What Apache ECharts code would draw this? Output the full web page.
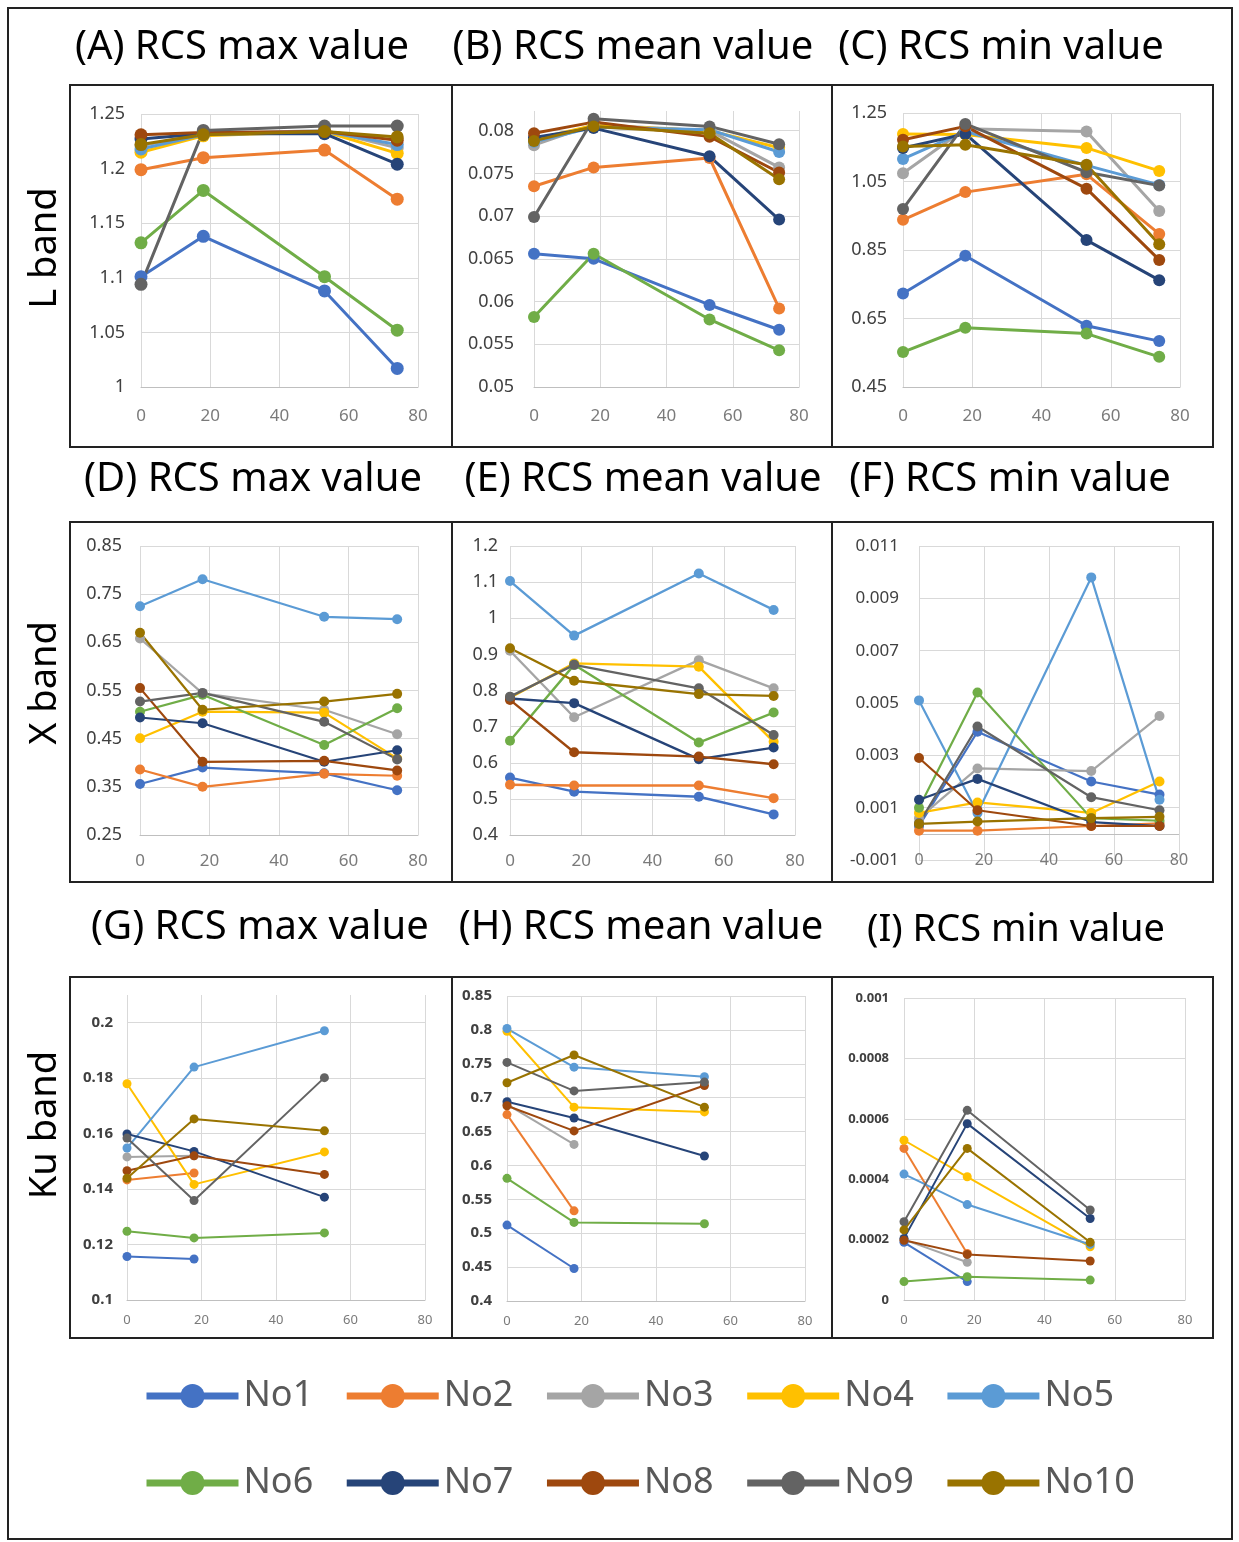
<!DOCTYPE html>
<html><head><meta charset="utf-8">
<script src="https://cdn.jsdelivr.net/npm/echarts@6/dist/echarts.min.js"></script>
<style>html,body{margin:0;padding:0;background:#fff}#c{width:1239px;height:1542px}</style>
</head><body><div id="c"></div>
<script>
// ---------- data ----------
const seriesNames = ['No1','No2','No3','No4','No5','No6','No7','No8','No9','No10'];
const seriesColors = ['#4472C4','#ED7D31','#A5A5A5','#FFC000','#5B9BD5','#70AD47','#264478','#9E480E','#636363','#997300'];
const panelTitles = ['(A) RCS max value','(B) RCS mean value','(C) RCS min value',
                     '(D) RCS max value','(E) RCS mean value','(F) RCS min value',
                     '(G) RCS max value','(H) RCS mean value','(I) RCS min value'];
const bandLabels = ['L band','X band','Ku band'];
const xAngles_LX = [0, 18, 53, 74];
const xAngles_Ku = [0, 18, 53];
const xAxisRange = [0, 80, 20];          // min, max, interval
// y axis ranges: [min, max, interval]
const yRangeA = [1, 1.25, 0.05];
const yRangeB = [0.05, 0.0823, 0.005];
const yRangeC = [0.45, 1.25, 0.2];
const yRangeD = [0.25, 0.85, 0.1];
const yRangeE = [0.4, 1.2, 0.1];
const yRangeF = [-0.001, 0.011, 0.002];
const yRangeG = [0.1, 0.21, 0.02];
const yRangeH = [0.4, 0.85, 0.05];
const yRangeI = [0, 0.001, 0.0002];

// one row per series No1..No10
const L_max = [
  [1.101, 1.138, 1.088, 1.017],
  [1.199, 1.210, 1.217, 1.172],
  [1.221, 1.232, 1.235, 1.219],
  [1.215, 1.230, 1.234, 1.214],
  [1.218, 1.231, 1.234, 1.222],
  [1.132, 1.180, 1.101, 1.052],
  [1.227, 1.232, 1.232, 1.204],
  [1.231, 1.233, 1.234, 1.226],
  [1.094, 1.235, 1.239, 1.239],
  [1.222, 1.231, 1.234, 1.229]
];
const L_mean = [
  [0.0656, 0.0650, 0.0596, 0.0567],
  [0.0735, 0.0757, 0.0768, 0.0592],
  [0.0783, 0.0807, 0.0800, 0.0757],
  [0.0790, 0.0806, 0.0800, 0.0780],
  [0.0787, 0.0804, 0.0801, 0.0775],
  [0.0582, 0.0656, 0.0579, 0.0543],
  [0.0792, 0.0803, 0.0770, 0.0696],
  [0.0797, 0.0810, 0.0793, 0.0751],
  [0.0699, 0.0814, 0.0805, 0.0784],
  [0.0788, 0.0805, 0.0797, 0.0743]
];
const L_min = [
  [0.723, 0.833, 0.629, 0.584],
  [0.938, 1.019, 1.071, 0.897],
  [1.074, 1.204, 1.196, 0.964],
  [1.189, 1.187, 1.148, 1.081],
  [1.116, 1.196, 1.097, 1.040],
  [0.552, 0.623, 0.606, 0.538],
  [1.148, 1.189, 0.879, 0.762],
  [1.172, 1.211, 1.029, 0.821],
  [0.970, 1.218, 1.077, 1.038],
  [1.152, 1.157, 1.099, 0.867]
];
const X_max = [
  [0.356, 0.390, 0.378, 0.343],
  [0.386, 0.350, 0.377, 0.373],
  [0.658, 0.544, 0.510, 0.459],
  [0.451, 0.506, 0.504, 0.409],
  [0.725, 0.781, 0.703, 0.698],
  [0.506, 0.541, 0.437, 0.513],
  [0.494, 0.482, 0.402, 0.426],
  [0.555, 0.402, 0.404, 0.384],
  [0.527, 0.545, 0.485, 0.407],
  [0.670, 0.510, 0.527, 0.543]
];
const X_mean = [
  [0.559, 0.520, 0.506, 0.457],
  [0.539, 0.537, 0.537, 0.502],
  [0.910, 0.726, 0.884, 0.806],
  [0.780, 0.875, 0.866, 0.658],
  [1.103, 0.952, 1.124, 1.023],
  [0.661, 0.871, 0.656, 0.739],
  [0.778, 0.765, 0.610, 0.642],
  [0.774, 0.629, 0.617, 0.596],
  [0.783, 0.871, 0.806, 0.677],
  [0.917, 0.827, 0.790, 0.785]
];
const X_min = [
  [0.0003, 0.0039, 0.0020, 0.0015],
  [0.00012, 0.00012, 0.0003, 0.0004],
  [0.0006, 0.0025, 0.0024, 0.0045],
  [0.0008, 0.0012, 0.0008, 0.0020],
  [0.0051, 0.0008, 0.0098, 0.0013],
  [0.0010, 0.0054, 0.0006, 0.0005],
  [0.0013, 0.0021, 0.00045, 0.0003],
  [0.0029, 0.0009, 0.0003, 0.0003],
  [0.0004, 0.0041, 0.0014, 0.0009],
  [0.00038, 0.00047, 0.0006, 0.00065]
];
const Ku_max = [
  [0.1157, 0.1148, null],
  [0.1433, 0.1458, null],
  [0.1516, 0.1520, null],
  [0.1780, 0.1417, 0.1534],
  [0.1548, 0.1840, 0.1971],
  [0.1248, 0.1224, 0.1242],
  [0.1599, 0.1536, 0.1371],
  [0.1466, 0.1520, 0.1453],
  [0.1584, 0.1359, 0.1802],
  [0.1439, 0.1653, 0.1610]
];
const Ku_mean = [
  [0.512, 0.448, null],
  [0.675, 0.533, null],
  [0.690, 0.631, null],
  [0.798, 0.686, 0.679],
  [0.802, 0.745, 0.731],
  [0.581, 0.516, 0.514],
  [0.694, 0.670, 0.614],
  [0.688, 0.651, 0.718],
  [0.752, 0.710, 0.723],
  [0.722, 0.763, 0.686]
];
const Ku_min = [
  [0.000191, 0.000061, null],
  [0.000502, 0.000154, null],
  [0.000200, 0.000125, null],
  [0.000529, 0.000408, 0.000176],
  [0.000417, 0.000316, 0.000184],
  [0.000061, 0.000077, 0.000066],
  [0.000204, 0.000584, 0.000270],
  [0.000198, 0.000151, 0.000129],
  [0.000259, 0.000628, 0.000298],
  [0.000232, 0.000502, 0.000191]
];

// ---------- layout ----------
const FONT = '"Noto Sans", "Open Sans", sans-serif';
const panels = [
  {grid:{left:141,top:114,width:277,height:273}, y:yRangeA, xs:xAngles_LX, vals:L_max,  fs:18, ym:16, xm:21, sym:13, lw:3},
  {grid:{left:534,top:111,width:265,height:276}, y:yRangeB, xs:xAngles_LX, vals:L_mean, fs:18, ym:20, xm:21, sym:12, lw:3, hideMax:true},
  {grid:{left:903,top:113,width:277,height:274}, y:yRangeC, xs:xAngles_LX, vals:L_min,  fs:18, ym:16, xm:21, sym:12, lw:3},
  {grid:{left:140,top:546,width:278,height:289}, y:yRangeD, xs:xAngles_LX, vals:X_max,  fs:18, ym:18, xm:18, sym:10, lw:2.2},
  {grid:{left:510,top:546,width:285,height:289}, y:yRangeE, xs:xAngles_LX, vals:X_mean, fs:18, ym:12, xm:18, sym:10, lw:2.4},
  {grid:{left:919,top:546,width:260,height:314}, y:yRangeF, xs:xAngles_LX, vals:X_min,  fs:17, ym:20, xm:-8, sym:10, lw:2.2, zeroLine:true},
  {grid:{left:127,top:995,width:298,height:305}, y:yRangeG, xs:xAngles_Ku, vals:Ku_max, fs:15, ym:14, xm:14, sym:9, lw:2, hideMax:true, bold:true, xfs:13},
  {grid:{left:507,top:996,width:298,height:305}, y:yRangeH, xs:xAngles_Ku, vals:Ku_mean,fs:15, ym:15, xm:14, sym:9, lw:2, bold:true, xfs:13},
  {grid:{left:904,top:998,width:281,height:302}, y:yRangeI, xs:xAngles_Ku, vals:Ku_min, fs:13, ym:15, xm:14, sym:9, lw:2, bold:true, xfs:13}
];
const titlePos = [[242,48],[633,48],[1001,48],[253,480],[643,480],[1010,480],[260,928],[641,928],[1016,930]];
const titleSize = [40,40,40,40,40,40,40,40,38];
const bandPos = [[45,248],[45,683],[45,1125]];

const grids = [], xAxes = [], yAxes = [], series = [];
panels.forEach((p, gi) => {
  grids.push(Object.assign({containLabel:false}, p.grid));
  xAxes.push({
    type:'value', gridIndex:gi, min:xAxisRange[0], max:xAxisRange[1], interval:xAxisRange[2],
    axisLine:{show:!p.zeroLine, onZero:false, lineStyle:{color:'#bfbfbf', width:1}},
    axisTick:{show:false},
    splitLine:{show:true, lineStyle:{color:'#d9d9d9', width:1}},
    axisLabel:{fontSize:p.xfs||p.fs-1, color:'#7a7a7a', margin:p.xm, fontFamily:FONT}
  });
  yAxes.push({
    type:'value', gridIndex:gi, min:p.y[0], max:p.y[1], interval:p.y[2],
    axisLine:{show:false}, axisTick:{show:false},
    splitLine:{show:true, showMaxLine:!p.hideMax, lineStyle:{color:'#d9d9d9', width:1}},
    axisLabel:{fontSize:p.fs, color:'#404040', margin:p.ym, fontFamily:FONT,
               fontWeight:p.bold?'bold':'normal', showMaxLabel:!p.hideMax}
  });
  seriesNames.forEach((name, si) => {
    const data = [];
    p.xs.forEach((x, k) => { const v = p.vals[si][k]; if (v !== null && v !== undefined) data.push([x, v]); });
    const s = {
      type:'line', name, xAxisIndex:gi, yAxisIndex:gi, data,
      symbol:'circle', symbolSize:p.sym, showSymbol:true,
      lineStyle:{color:seriesColors[si], width:p.lw},
      itemStyle:{color:seriesColors[si]},
      emphasis:{disabled:true}, animation:false, z:2
    };
    if (p.zeroLine && si === 0) {
      s.markLine = {silent:true, symbol:['none','none'], label:{show:false},
        lineStyle:{color:'#bfbfbf', type:'solid', width:1}, data:[{yAxis:0}], animation:false, z:1};
    }
    series.push(s);
  });
});

const graphics = [];
// outer frame
graphics.push({type:'rect', shape:{x:8,y:8,width:1224,height:1531}, style:{fill:'none', stroke:'#222', lineWidth:2}, z:100});
// panel boxes
[[85,447],[522,882],[977,1338]].forEach(([t,b]) => {
  graphics.push({type:'rect', shape:{x:70,y:t,width:1143,height:b-t}, style:{fill:'none', stroke:'#222', lineWidth:2}, z:100});
  [452,832].forEach(x => graphics.push({type:'line', shape:{x1:x,y1:t,x2:x,y2:b}, style:{stroke:'#222', lineWidth:2}, z:100}));
});
panelTitles.forEach((t, i) => {
  graphics.push({type:'text', x:titlePos[i][0], y:titlePos[i][1],
    style:{text:t, font:titleSize[i] + 'px ' + FONT, fill:'#000', textAlign:'center', textVerticalAlign:'middle'}, z:100});
});
bandLabels.forEach((t, i) => {
  graphics.push({type:'text', x:bandPos[i][0], y:bandPos[i][1], rotation:Math.PI/2,
    style:{text:t, font:'38px ' + FONT, fill:'#000', textAlign:'center', textVerticalAlign:'middle'}, z:100});
});

const legendCommon = {
  left:143, padding:0, itemWidth:92, itemHeight:30, itemGap:30, selectedMode:false,
  lineStyle:{width:7},
  textStyle:{fontSize:36, color:'#595959', width:80, fontFamily:FONT}
};

const chart = echarts.init(document.getElementById('c'), null, {renderer:'canvas'});
chart.setOption({
  animation:false,
  backgroundColor:'#fff',
  textStyle:{fontFamily:FONT},
  grid:grids, xAxis:xAxes, yAxis:yAxes, series,
  legend:[
    Object.assign({}, legendCommon, {top:1378, data:seriesNames.slice(0,5)}),
    Object.assign({}, legendCommon, {top:1465, data:seriesNames.slice(5)})
  ],
  graphic:graphics
});
</script></body></html>
